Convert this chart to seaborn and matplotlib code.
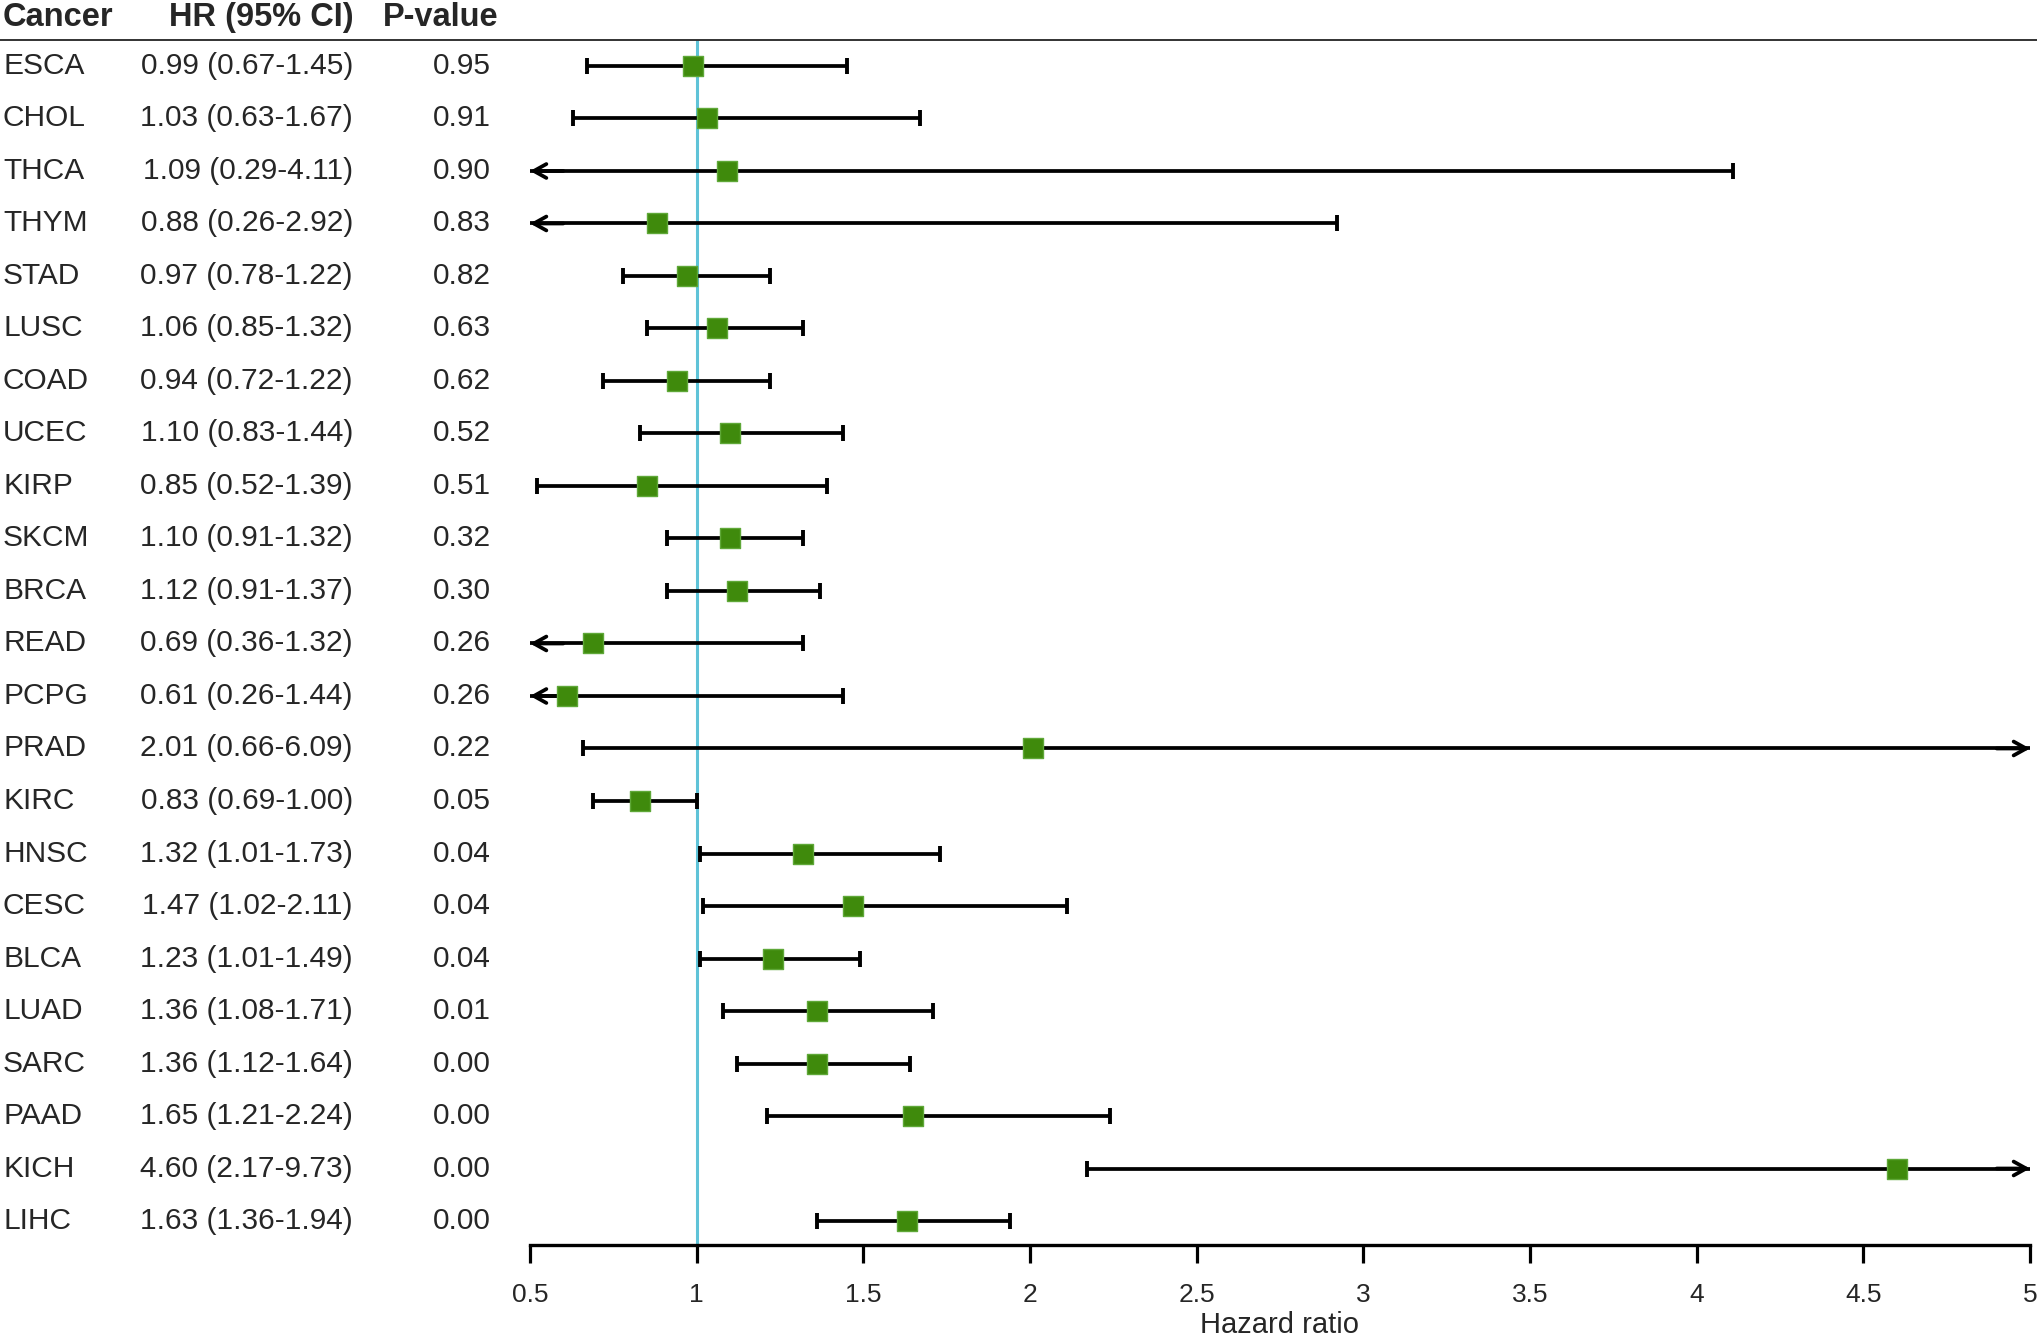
import pandas as pd
import seaborn as sns
import matplotlib.pyplot as plt
from matplotlib.lines import Line2D
from matplotlib.transforms import blended_transform_factory

cancers = ['ESCA', 'CHOL', 'THCA', 'THYM', 'STAD', 'LUSC', 'COAD', 'UCEC', 'KIRP', 'SKCM',
           'BRCA', 'READ', 'PCPG', 'PRAD', 'KIRC', 'HNSC', 'CESC', 'BLCA', 'LUAD', 'SARC',
           'PAAD', 'KICH', 'LIHC']
hr = [0.99, 1.03, 1.09, 0.88, 0.97, 1.06, 0.94, 1.10, 0.85, 1.10,
      1.12, 0.69, 0.61, 2.01, 0.83, 1.32, 1.47, 1.23, 1.36, 1.36,
      1.65, 4.60, 1.63]
ci_low = [0.67, 0.63, 0.29, 0.26, 0.78, 0.85, 0.72, 0.83, 0.52, 0.91,
          0.91, 0.36, 0.26, 0.66, 0.69, 1.01, 1.02, 1.01, 1.08, 1.12,
          1.21, 2.17, 1.36]
ci_high = [1.45, 1.67, 4.11, 2.92, 1.22, 1.32, 1.22, 1.44, 1.39, 1.32,
           1.37, 1.32, 1.44, 6.09, 1.00, 1.73, 2.11, 1.49, 1.71, 1.64,
           2.24, 9.73, 1.94]
p_values = ['0.95', '0.91', '0.90', '0.83', '0.82', '0.63', '0.62', '0.52', '0.51', '0.32',
            '0.30', '0.26', '0.26', '0.22', '0.05', '0.04', '0.04', '0.04', '0.01', '0.00',
            '0.00', '0.00', '0.00']
x_ticks = [0.5, 1, 1.5, 2, 2.5, 3, 3.5, 4, 4.5, 5]
x_tick_labels = ['0.5', '1', '1.5', '2', '2.5', '3', '3.5', '4', '4.5', '5']

df = pd.DataFrame({'cancer': cancers, 'hr': hr, 'low': ci_low, 'high': ci_high, 'p': p_values})
df['row'] = range(len(df))

W, H = 2037, 1336
XMIN, XMAX = 0.5, 5

sns.set_style('white')
plt.rcParams['font.family'] = ['Liberation Sans', 'DejaVu Sans']

fig = plt.figure(figsize=(W / 100, H / 100), dpi=100)
ax = fig.add_axes([530 / W, 1 - 1245 / H, 1500 / W, (1245 - 40) / H])

# reference line at HR = 1
ax.axvline(1, color='#5fc3d8', lw=2.2, zorder=1)

arrow_style = dict(arrowstyle='->,head_length=0.45,head_width=0.25', color='black',
                   lw=2.7, shrinkA=0, shrinkB=0, mutation_scale=20)

# confidence intervals, with arrows where they leave the axis
for _, r in df.iterrows():
    lo = max(r['low'], XMIN)
    hi = min(r['high'], XMAX)
    ax.hlines(r['row'], lo, hi, color='black', lw=2.7, zorder=2)
    if r['low'] < XMIN:
        ax.annotate('', xy=(XMIN, r['row']), xytext=(XMIN + 0.1, r['row']),
                    arrowprops=arrow_style, annotation_clip=False, zorder=2)
    else:
        ax.plot([lo], [r['row']], marker='|', ms=11, mew=2.8, color='black', zorder=2)
    if r['high'] > XMAX:
        ax.annotate('', xy=(XMAX, r['row']), xytext=(XMAX - 0.1, r['row']),
                    arrowprops=arrow_style, annotation_clip=False, zorder=2)
    else:
        ax.plot([hi], [r['row']], marker='|', ms=11, mew=2.8, color='black', zorder=2)

sns.scatterplot(data=df, x='hr', y='row', marker='s', s=190, color='#3f8a0c',
                edgecolor='#5fa838', linewidth=1, zorder=3, ax=ax, legend=False)

ax.set_xlim(XMIN, XMAX)
ax.set_ylim(len(df) - 1 + 0.457, -0.495)
ax.set_xticks(x_ticks)
ax.set_xticklabels(x_tick_labels)
ax.set_yticks([])
ax.set_ylabel('')
ax.set_xlabel('Hazard ratio', fontsize=21)
ax.xaxis.set_label_coords(0.5, -(1333 - 1245) / (1245 - 40))
ax.xaxis.label.set_va('baseline')
ax.tick_params(axis='x', direction='out', length=13, width=2.3, pad=14, labelsize=19,
               bottom=True, color='black')
for side in ['top', 'left', 'right']:
    ax.spines[side].set_visible(False)
ax.spines['bottom'].set_linewidth(2.4)
ax.spines['bottom'].set_color('black')

# table columns on the left
trans = blended_transform_factory(fig.transFigure, ax.transData)
for _, r in df.iterrows():
    ax.text(3 / W, r['row'], r['cancer'], transform=trans, fontsize=21.5, va='center', ha='left')
    ax.text(353 / W, r['row'], f"{r['hr']:.2f} ({r['low']:.2f}-{r['high']:.2f})",
            transform=trans, fontsize=21.5, va='center', ha='right')
    ax.text(491 / W, r['row'], r['p'], transform=trans, fontsize=21.5, va='center', ha='right')

hy = 1 - 26 / H
fig.text(3 / W, hy, 'Cancer', fontsize=23.5, fontweight='bold', ha='left', va='baseline')
fig.text(354 / W, hy, 'HR (95% CI)', fontsize=23.5, fontweight='bold', ha='right', va='baseline')
fig.text(383 / W, hy, 'P-value', fontsize=23.5, fontweight='bold', ha='left', va='baseline')
fig.add_artist(Line2D([0, 1], [1 - 40 / H, 1 - 40 / H], transform=fig.transFigure,
                      color='#333333', lw=1.4))

fig.savefig('out.png', dpi=100)
